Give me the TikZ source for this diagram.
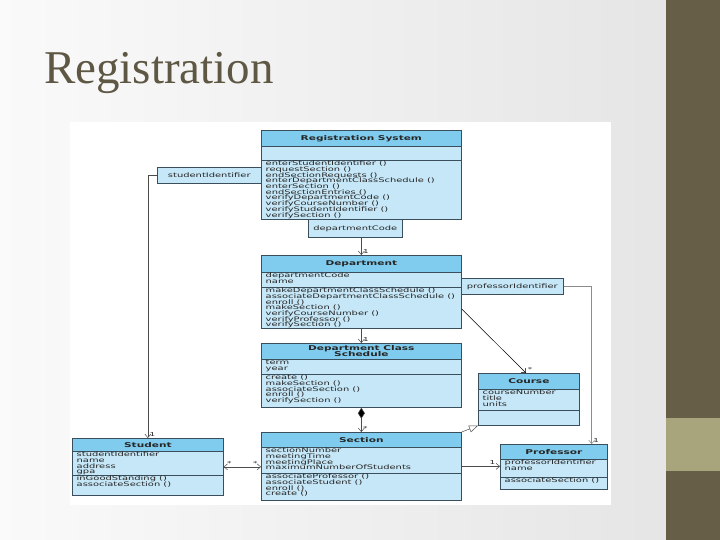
\documentclass[tikz,border=0pt]{standalone}
\usepackage{fontspec}
\setmainfont{Liberation Serif}
\newfontfamily\umlfont{DejaVu Sans}[FakeStretch=1.6]
\usetikzlibrary{arrows.meta,calc}
\definecolor{headblue}{RGB}{128,204,238}
\definecolor{bodyblue}{RGB}{198,231,247}
\definecolor{boxedge}{RGB}{58,78,92}
\definecolor{olivedark}{RGB}{103,94,72}
\definecolor{olivelight}{RGB}{168,164,124}
\definecolor{titlegray}{RGB}{94,87,68}
\newcommand{\tightlines}{\setlength{\lineskiplimit}{-5pt}\setlength{\lineskip}{0pt}}
\newcommand{\umlclass}[9]{%
  \node[classbody,minimum width=#3,minimum height=#4,anchor=north west] (#1) at (#2) {};
  \node[classhead,minimum width=#3,minimum height=#5,anchor=north west] (#1-head) at (#1.north west) {#7};
  \draw[classedge] ($(#1.north west)+(0,#5+#6)$) -- ++(#3,0);
  \node[members,anchor=north west] (#1-attrs) at ($(#1.north west)+(0,#5)$) {#8};
  \node[members,anchor=north west] (#1-ops) at ($(#1.north west)+(0,#5+#6)$) {#9};
}
\begin{document}
\begin{tikzpicture}[x=1pt,y=-1pt,
  classbody/.style={draw=boxedge,line width=0.7pt,fill=bodyblue,inner sep=0pt},
  classhead/.style={draw=boxedge,line width=0.7pt,fill=headblue,inner sep=1pt,align=center,
    font=\umlfont\bfseries\fontsize{6.6}{6.3}\selectfont\tightlines,text=black!85},
  classedge/.style={draw=boxedge,line width=0.5pt},
  members/.style={align=left,inner xsep=4.5pt,inner ysep=0.8pt,text=black!85,
    font=\umlfont\fontsize{6.2}{5.7}\selectfont\tightlines},
  qualifier/.style={draw=boxedge,line width=0.6pt,fill=bodyblue,inner sep=1pt,text=black!85,
    font=\umlfont\fontsize{6.2}{6}\selectfont},
  mult/.style={inner sep=1.5pt,text=black!85,font=\umlfont\fontsize{5.5}{5.5}\selectfont},
  assoc/.style={draw=black!70,line width=0.5pt,-{Straight Barb[length=3.5pt,width=6pt]}},
  compo/.style={draw=black!70,line width=0.5pt,{Diamond[length=11pt,width=7pt,fill=black]}-{Straight Barb[length=3.5pt,width=6pt]}},
  gen/.style={draw=black!70,line width=0.5pt,-{Triangle[open,fill=white,length=9pt,width=7pt]}}]
\useasboundingbox (0,0) rectangle (720,540);
\shade[left color=black!2,right color=black!10] (0,0) rectangle (666,540);
\fill[white] (70,122) rectangle (611,505);
\fill[olivedark] (666,0) rectangle (720,540);
\fill[olivelight] (666,418) rectangle (720,471);
\node[anchor=base west,inner sep=0pt,text=titlegray,font=\fontsize{47}{50}\selectfont] (title) at (44,84) {Registration};

\umlclass{RS}{261,130}{200}{89}{16}{14}{Registration System}{}{enterStudentIdentifier ()\\requestSection ()\\endSectionRequests ()\\enterDepartmentClassSchedule ()\\enterSection ()\\endSectionEntries ()\\verifyDepartmentCode ()\\verifyCourseNumber ()\\verifyStudentIdentifier ()\\verifySection ()}
\umlclass{Dept}{261,255}{200}{73}{17}{15}{Department}{departmentCode\\name}{makeDepartmentClassSchedule ()\\associateDepartmentClassSchedule ()\\enroll ()\\makeSection ()\\verifyCourseNumber ()\\verifyProfessor ()\\verifySection ()}
\umlclass{DCS}{261,343}{200}{64}{16}{15}{Department Class\\Schedule}{term\\year}{create ()\\makeSection ()\\associateSection ()\\enroll ()\\verifySection ()}
\umlclass{Course}{478,373}{101}{52}{16}{21}{Course}{courseNumber\\title\\units}{}
\umlclass{Section}{261,432}{200}{68}{15}{26}{Section}{sectionNumber\\meetingTime\\meetingPlace\\maximumNumberOfStudents}{associateProfessor ()\\associateStudent ()\\enroll ()\\create ()}
\umlclass{Student}{72,438}{151}{57}{13}{24}{Student}{studentIdentifier\\name\\address\\gpa}{inGoodStanding ()\\associateSection ()}
\umlclass{Professor}{500,444}{107}{45}{15}{18}{Professor}{professorIdentifier\\name}{associateSection ()}

\node[qualifier,minimum width=104,minimum height=16,anchor=north west] (sid) at (157,167) {studentIdentifier};
\node[qualifier,minimum width=94,minimum height=18,anchor=north west] (dcode) at (308,219) {departmentCode};
\node[qualifier,minimum width=102,minimum height=16,anchor=north west] (pid) at (461,278) {professorIdentifier};

\draw[assoc] (sid.west) -| (Student.north) node[mult,at end,above right]{1};
\draw[assoc] (dcode.south -| Dept.north) -- (Dept.north) node[mult,at end,above right]{1};
\draw[assoc] (Dept.south) -- (DCS.north) node[mult,at end,above right]{1};
\draw[compo] (DCS.south) -- (Section.north) node[mult,at end,above right]{*};
\draw[assoc,draw=black] ($(Dept.north east)+(0,54)$) -- ($(Course.north west)+(48,0)$) node[mult,at end,above right]{*};
\draw[gen] (Section.north east) -- (Course.south west);
\draw[assoc,{Straight Barb[length=3.5pt,width=6pt]}-{Straight Barb[length=3.5pt,width=6pt]}] (Student.east) -- (Student.east -| Section.west) node[mult,pos=0.15,above]{*} node[mult,pos=0.85,above]{*};
\draw[assoc] (Section.east) -- (Section.east -| Professor.west) node[mult,pos=0.8,above]{1};
\draw[assoc,draw=black!45] (pid.east) -| ($(Professor.north east)+(-16,0)$) node[mult,at end,above right]{1};
\end{tikzpicture}
\end{document}
